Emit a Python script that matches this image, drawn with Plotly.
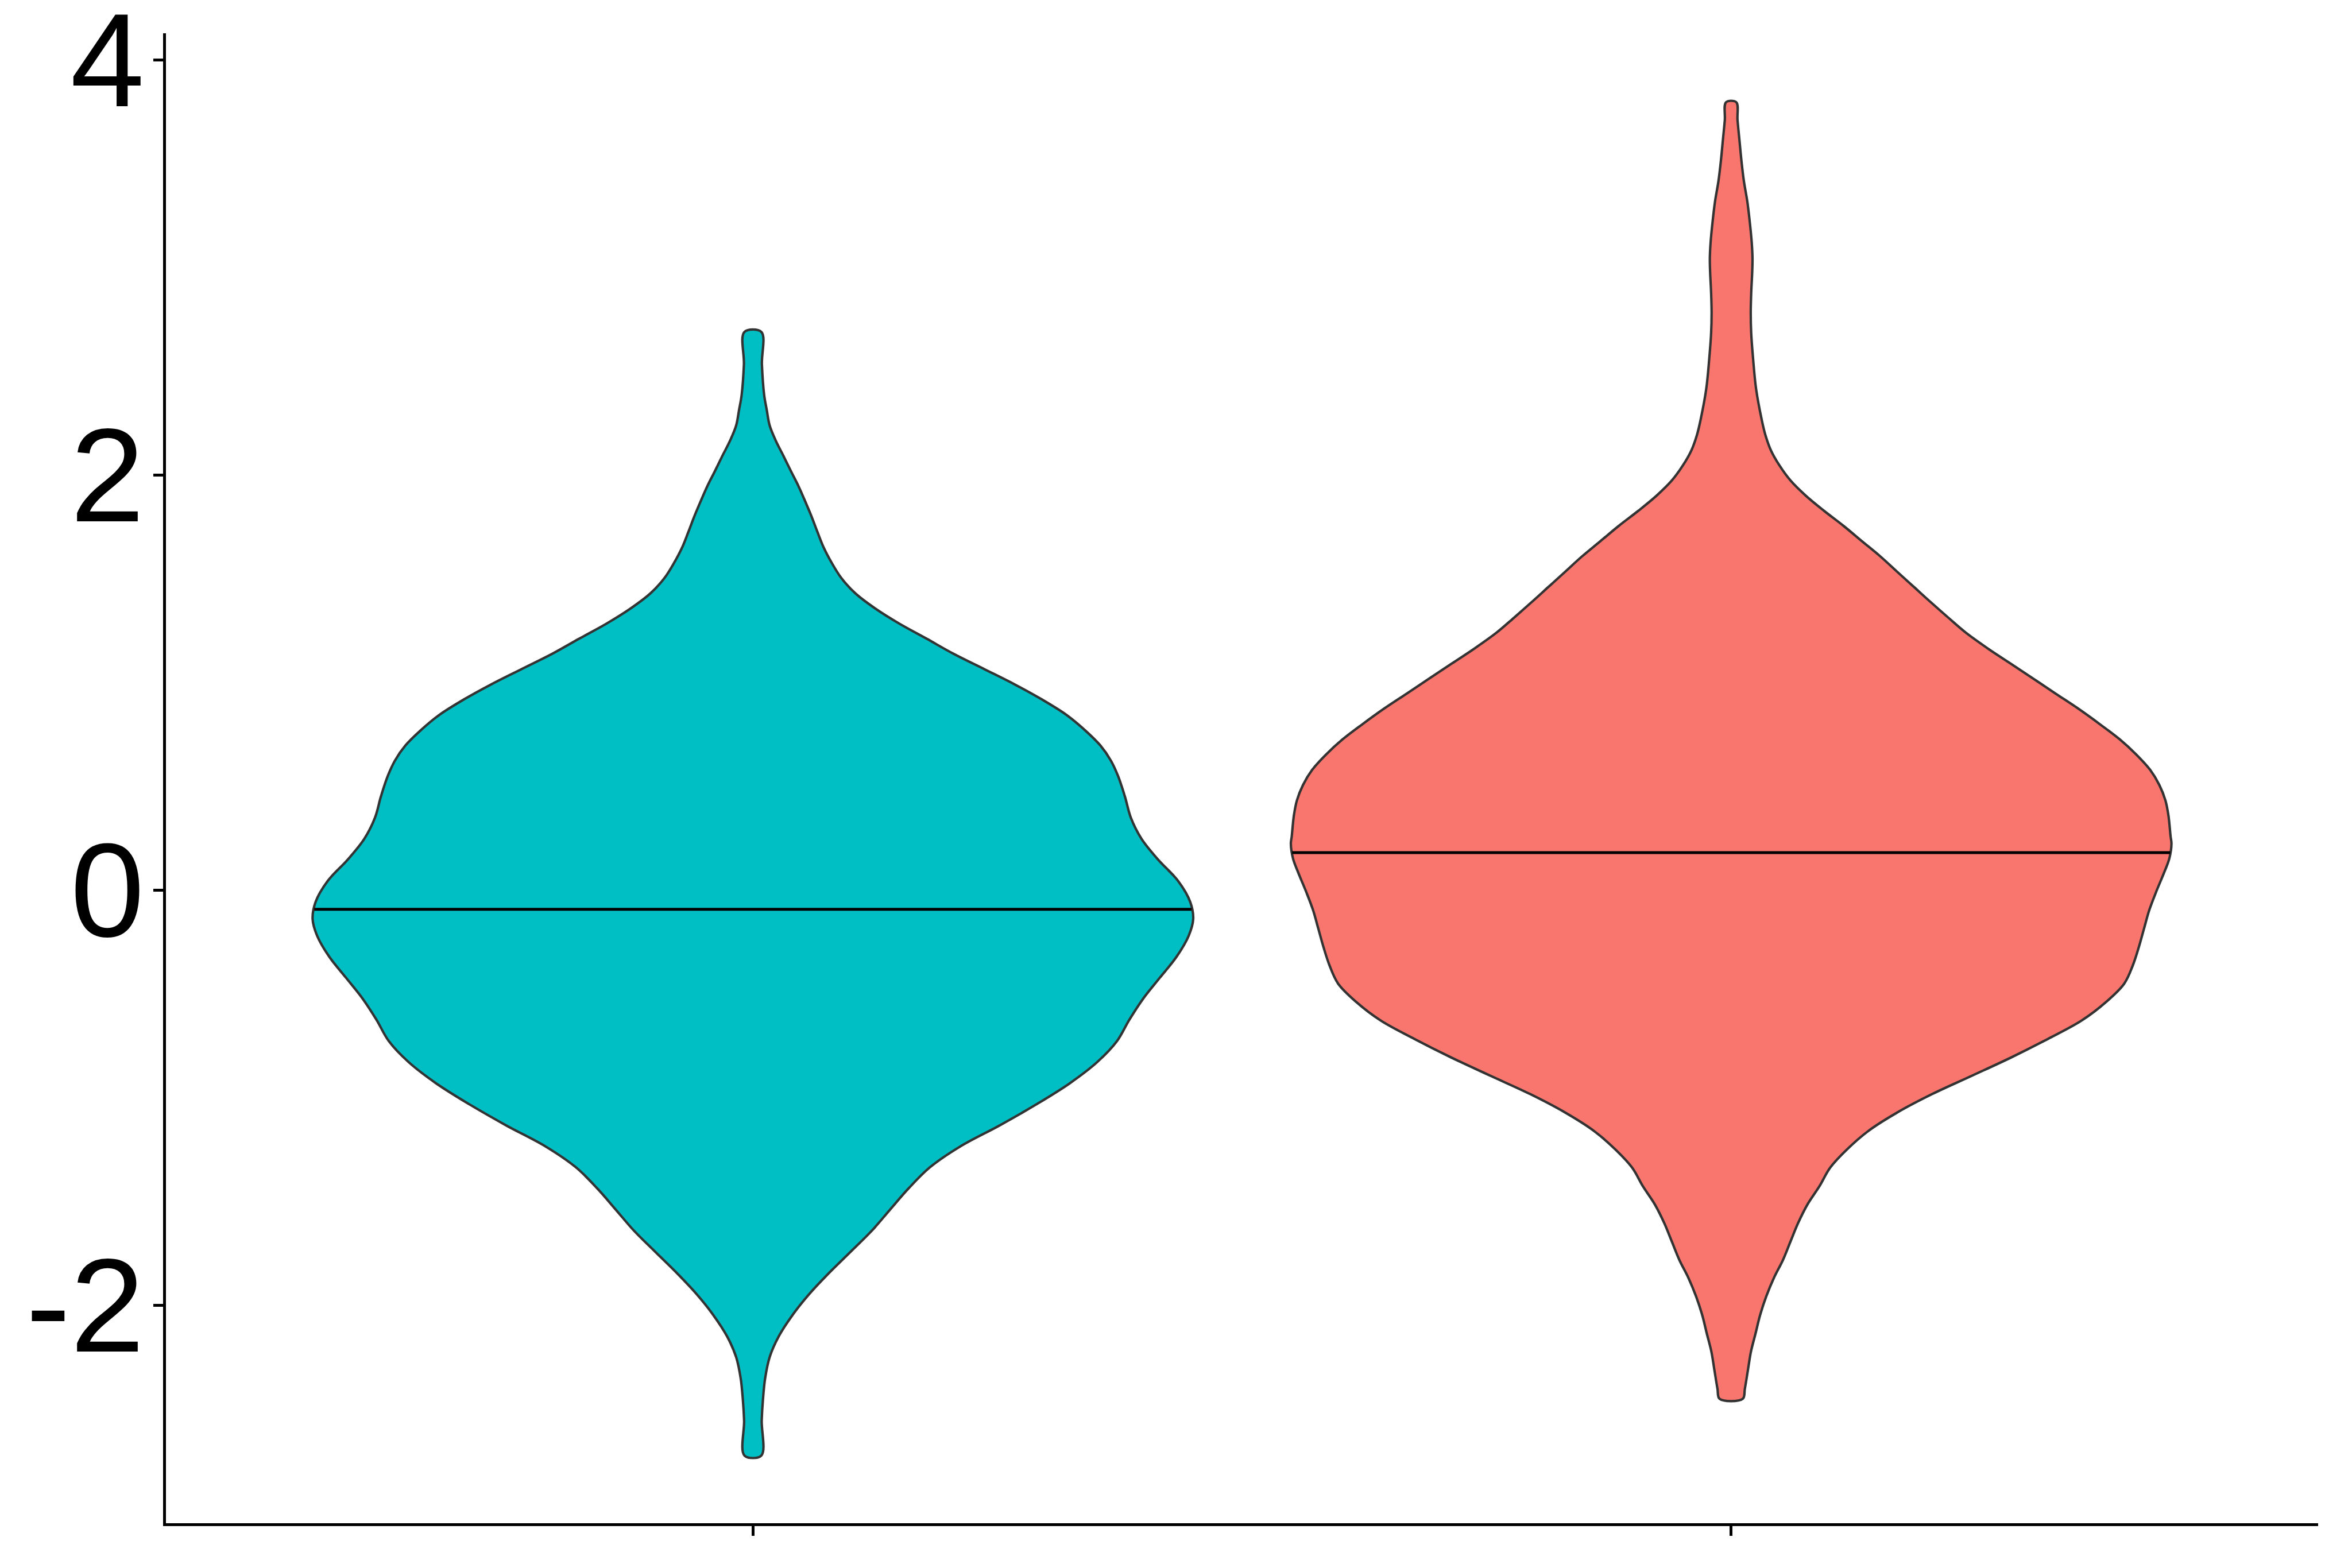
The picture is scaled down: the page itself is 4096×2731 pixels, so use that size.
import numpy as np
import plotly.graph_objects as go

# ---- data (violin outlines: y value, half-width in x units) ----
categories = [1, 2]
fill_colors = ["#00BFC4", "#F8766D"]

cyan_y = [2.689, 2.533, 2.386, 2.312, 2.239, 2.165, 2.092, 2.018, 1.945, 1.871, 1.798, 1.725,
          1.651, 1.578, 1.504, 1.431, 1.358, 1.284, 1.211, 1.137, 1.064, 0.990, 0.917, 0.843,
          0.770, 0.697, 0.623, 0.550, 0.450, 0.349, 0.247, 0.146, 0.044, -0.057, -0.139,
          -0.220, -0.322, -0.423, -0.525, -0.626, -0.728, -0.829, -0.931, -1.033, -1.134,
          -1.236, -1.337, -1.439, -1.540, -1.642, -1.744, -1.845, -1.947, -2.048, -2.150,
          -2.251, -2.353, -2.454, -2.556, -2.725]
cyan_hw = [0.0087, 0.0092, 0.0115, 0.0142, 0.0171, 0.0234, 0.0312, 0.0389, 0.0467, 0.0536,
           0.0601, 0.0660, 0.0723, 0.0804, 0.0903, 0.1044, 0.1246, 0.1495, 0.1776, 0.2056,
           0.2367, 0.2679, 0.2959, 0.3208, 0.3395, 0.3551, 0.3660, 0.3732, 0.3803, 0.3863,
           0.3972, 0.4143, 0.4346, 0.4470, 0.4501, 0.4455, 0.4330, 0.4159, 0.3987, 0.3847,
           0.3722, 0.3520, 0.3240, 0.2897, 0.2523, 0.2118, 0.1807, 0.1589, 0.1402, 0.1215,
           0.0997, 0.0779, 0.0576, 0.0405, 0.0265, 0.0171, 0.0125, 0.0103, 0.0090, 0.0086]

salmon_y = [3.796, 3.710, 3.612, 3.514, 3.416, 3.318, 3.220, 3.122, 3.045, 2.976, 2.878,
            2.780, 2.682, 2.561, 2.414, 2.267, 2.194, 2.120, 2.047, 1.973, 1.900,
            1.827, 1.753, 1.680, 1.607, 1.533, 1.460, 1.387, 1.313, 1.240, 1.166, 1.093,
            1.020, 0.946, 0.873, 0.799, 0.726, 0.652, 0.579, 0.506, 0.432, 0.359, 0.258,
            0.223, 0.152, 0.081, -0.008, -0.097, -0.185, -0.274, -0.363, -0.451, -0.540,
            -0.629, -0.717, -0.806, -0.895, -0.983, -1.072, -1.161, -1.250, -1.338, -1.427,
            -1.516, -1.604, -1.693, -1.782, -1.870, -1.959, -2.048, -2.137, -2.225, -2.314,
            -2.403, -2.452]
salmon_hw = [0.0052, 0.0065, 0.0085, 0.0105, 0.0130, 0.0165, 0.0190, 0.0210, 0.0218, 0.0215,
             0.0205, 0.0200, 0.0205, 0.0224, 0.0255, 0.0312, 0.0349, 0.0405, 0.0492,
             0.0607, 0.0763, 0.0950, 0.1153, 0.1339, 0.1526, 0.1698, 0.1869, 0.2040, 0.2218,
             0.2399, 0.2617, 0.2850, 0.3084, 0.3318, 0.3551, 0.3769, 0.3972, 0.4143, 0.4283,
             0.4377, 0.4439, 0.4470, 0.4492, 0.4501, 0.4479, 0.4423, 0.4345, 0.4274, 0.4221,
             0.4168, 0.4106, 0.4018, 0.3831, 0.3582, 0.3240, 0.2866, 0.2461, 0.2056, 0.1698,
             0.1402, 0.1184, 0.1012, 0.0903, 0.0779, 0.0685, 0.0607, 0.0530, 0.0436, 0.0358,
             0.0296, 0.0249, 0.0202, 0.0171, 0.0140, 0.0118]

medians = [-0.093, 0.180]

y_tickvals = [-2, 0, 2, 4]
y_ticktext = ["-2", "0", "2", "4"]

# ---- figure ----
fig = go.Figure()
profiles = [(cyan_y, cyan_hw), (salmon_y, salmon_hw)]
for cat, color, (ys, hws), med in zip(categories, fill_colors, profiles, medians):
    ys = np.array(ys)
    hws = np.array(hws)
    xs = np.concatenate([cat + hws, (cat - hws)[::-1], [cat + hws[0]]])
    yy = np.concatenate([ys, ys[::-1], [ys[0]]])
    fig.add_trace(go.Scatter(
        x=xs, y=yy, mode="lines", fill="toself", fillcolor=color,
        line=dict(color="#333333", width=4.2, shape="spline", smoothing=1.0),
        hoverinfo="skip", showlegend=False))
    # median line across the violin at that height
    hw_med = float(np.interp(med, ys[::-1], hws[::-1]))
    fig.add_trace(go.Scatter(
        x=[cat - hw_med, cat + hw_med], y=[med, med], mode="lines",
        line=dict(color="#000000", width=5), hoverinfo="skip", showlegend=False))

axis_common = dict(
    showgrid=False, zeroline=False, showline=True, linecolor="#000000", linewidth=5,
    ticks="outside", ticklen=17, tickwidth=5, tickcolor="#000000", automargin=False,
)

fig.update_layout(
    width=4096, height=2731,
    margin=dict(l=289, r=59, t=58, b=78, pad=0, autoexpand=False),
    paper_bgcolor="#FFFFFF", plot_bgcolor="#FFFFFF",
    font=dict(family="Liberation Sans, Arial, sans-serif", color="#000000"),
    xaxis=dict(range=[0.4, 2.6], tickvals=categories, ticktext=["", ""], **axis_common),
    yaxis=dict(range=[-3.051, 4.128], tickvals=y_tickvals, ticktext=y_ticktext,
               tickfont=dict(size=232, color="#000000"), ticklabelstandoff=-31,
               ticklabeloverflow="allow", **axis_common),
)

fig.write_html("out.html")
